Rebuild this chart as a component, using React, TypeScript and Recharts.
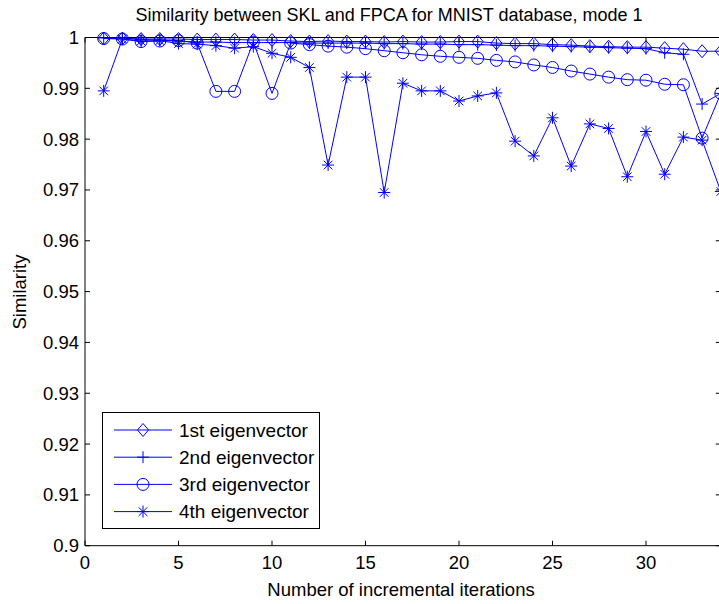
import { LineChart, Line, XAxis, YAxis, Legend, ReferenceLine } from "recharts";

// values
const iterations = [
  1, 2, 3, 4, 5, 6, 7, 8, 9, 10, 11, 12, 13, 14, 15, 16, 17,
  18, 19, 20, 21, 22, 23, 24, 25, 26, 27, 28, 29, 30, 31, 32, 33, 34,
];
const firstEig = [
  0.9998, 0.9998, 0.9997, 0.9997, 0.9997, 0.9996, 0.9996, 0.9996, 0.9995, 0.9995,
  0.9993, 0.9992, 0.9993, 0.9992, 0.9992, 0.9991, 0.9992, 0.9991, 0.9991, 0.9992,
  0.9992, 0.9989, 0.9988, 0.9988, 0.9986, 0.9985, 0.9983, 0.9982, 0.9981, 0.9981,
  0.9979, 0.9977, 0.9973, 0.9973,
];
const secondEig = [
  0.9999, 0.9999, 0.9996, 0.9995, 0.9993, 0.9991, 0.9991, 0.999, 0.999, 0.999,
  0.999, 0.9989, 0.9989, 0.9989, 0.9989, 0.9988, 0.9988, 0.9987, 0.9987, 0.9986,
  0.9986, 0.9985, 0.9984, 0.9984, 0.9983, 0.9982, 0.9981, 0.998, 0.9979, 0.9978,
  0.997, 0.9967, 0.9869, 0.989,
];
const thirdEig = [
  0.9998, 0.9997, 0.9992, 0.9993, 0.9994, 0.9989, 0.9894, 0.9894, 0.9991, 0.989,
  0.9989, 0.9986, 0.9983, 0.9981, 0.9978, 0.9974, 0.997, 0.9966, 0.9963, 0.9961,
  0.9959, 0.9955, 0.9952, 0.9946, 0.9941, 0.9934, 0.9928, 0.9922, 0.9917, 0.9916,
  0.9908, 0.9907, 0.9802, 0.989,
];
const fourthEig = [
  0.9895, 0.9997, 0.9993, 0.9994, 0.9988, 0.9987, 0.9984, 0.9979, 0.9982, 0.9969,
  0.9961, 0.9941, 0.9749, 0.9922, 0.9922, 0.9695, 0.991, 0.9895, 0.9895, 0.9875,
  0.9885, 0.9891, 0.9796, 0.9767, 0.9842, 0.9747, 0.983, 0.9821, 0.9726, 0.9815,
  0.9731, 0.9804, 0.9798, 0.9697,
];
const xTicks = [0, 5, 10, 15, 20, 25, 30];
const yTicks = [0.9, 0.91, 0.92, 0.93, 0.94, 0.95, 0.96, 0.97, 0.98, 0.99, 1];

const BLUE = "#0000ff";
const FONT = "'Liberation Sans', Arial, Helvetica, sans-serif";
const FS = 18.5;

// plot box in page pixels (right edge sits just past the window, like the reference)
const W = 740;
const H = 604;
const LEFT = 85;
const TOP = 37.5;
const RIGHT = 720.8;
const BOTTOM = 545.7;

type MarkerKind = "diamond" | "plus" | "circle" | "star";

const series: { key: string; name: string; marker: MarkerKind }[] = [
  { key: "first", name: "1st eigenvector", marker: "diamond" },
  { key: "second", name: "2nd eigenvector", marker: "plus" },
  { key: "third", name: "3rd eigenvector", marker: "circle" },
  { key: "fourth", name: "4th eigenvector", marker: "star" },
];

const data = iterations.map((it, i) => ({
  it,
  first: firstEig[i],
  second: secondEig[i],
  third: thirdEig[i],
  fourth: fourthEig[i],
}));

function Marker({ cx, cy, kind }: { cx: number; cy: number; kind: MarkerKind }) {
  const common = { stroke: BLUE, strokeWidth: 1, fill: "none" };
  if (kind === "diamond") {
    return (
      <polygon
        {...common}
        points={`${cx},${cy - 6.5} ${cx + 5.5},${cy} ${cx},${cy + 6.5} ${cx - 5.5},${cy}`}
      />
    );
  }
  if (kind === "circle") return <circle {...common} cx={cx} cy={cy} r={6} />;
  if (kind === "plus") {
    return (
      <path {...common} d={`M${cx - 6},${cy}H${cx + 6}M${cx},${cy - 6}V${cy + 6}`} />
    );
  }
  const d = 4.3;
  return (
    <path
      {...common}
      d={`M${cx - 6},${cy}H${cx + 6}M${cx},${cy - 6}V${cy + 6}M${cx - d},${cy - d}L${cx + d},${cy + d}M${cx - d},${cy + d}L${cx + d},${cy - d}`}
    />
  );
}

const dotFor = (kind: MarkerKind) => (props: any) => {
  const { cx, cy, index } = props;
  if (cx == null || cy == null) return <g key={index} />;
  return (
    <g key={`${kind}-${index}`}>
      <Marker cx={cx} cy={cy} kind={kind} />
    </g>
  );
};

function XTick(props: any) {
  const { x, payload } = props;
  return (
    <g>
      <line x1={x} x2={x} y1={BOTTOM} y2={BOTTOM - 5} stroke="#000" />
      <line x1={x} x2={x} y1={TOP} y2={TOP + 5} stroke="#000" />
      <text x={x} y={563} dy="0.35em" textAnchor="middle" fill="#000" fontSize={FS} fontFamily={FONT}>
        {payload.value}
      </text>
    </g>
  );
}

function YTick(props: any) {
  const { y, payload } = props;
  return (
    <g>
      <line x1={LEFT} x2={LEFT + 5} y1={y} y2={y} stroke="#000" />
      <line x1={RIGHT - 5} x2={RIGHT} y1={y} y2={y} stroke="#000" />
      <text x={79} y={y} dy="0.35em" textAnchor="end" fill="#000" fontSize={FS} fontFamily={FONT}>
        {String(Number(payload.value.toFixed(2)))}
      </text>
    </g>
  );
}

function XTitle() {
  return (
    <text x={401} y={590} dy="0.35em" textAnchor="middle" fill="#000" fontSize={FS} fontFamily={FONT}>
      Number of incremental iterations
    </text>
  );
}

function YTitle() {
  return (
    <text
      x={20}
      y={292}
      dy="0.35em"
      textAnchor="middle"
      fill="#000"
      fontSize={FS}
      fontFamily={FONT}
      transform="rotate(-90 20 292)"
    >
      Similarity
    </text>
  );
}

function LegendBox() {
  return (
    <svg width={218} height={117} style={{ display: "block" }}>
      <rect x={0.5} y={0.5} width={217} height={116} fill="#fff" stroke="#000" />
      {series.map((s, i) => {
        const y = 18 + i * 27.2;
        return (
          <g key={s.key}>
            <line x1={12} x2={70} y1={y} y2={y} stroke={BLUE} />
            <Marker cx={41} cy={y} kind={s.marker} />
            <text x={77} y={y} dy="0.35em" fill="#000" fontSize={19} fontFamily={FONT}>
              {s.name}
            </text>
          </g>
        );
      })}
    </svg>
  );
}

export default function App() {
  return (
    <div
      style={{
        position: "fixed",
        left: 0,
        top: 0,
        width: 719,
        height: 604,
        overflow: "hidden",
        background: "#fff",
        fontFamily: FONT,
      }}
    >
      <div
        style={{
          position: "absolute",
          left: 389,
          top: 15,
          transform: "translate(-50%, -50%)",
          whiteSpace: "nowrap",
          fontSize: 18,
          color: "#000",
          zIndex: 2,
        }}
      >
        Similarity between SKL and FPCA for MNIST database, mode 1
      </div>
      <LineChart
        width={W}
        height={H}
        data={data}
        margin={{ top: TOP, right: W - RIGHT, bottom: 0, left: 0 }}
      >
        <XAxis
          dataKey="it"
          type="number"
          domain={[0, 34]}
          ticks={xTicks}
          interval={0}
          height={H - BOTTOM}
          axisLine={{ stroke: "#000" }}
          tickLine={false}
          tick={<XTick />}
          label={<XTitle />}
        />
        <YAxis
          type="number"
          domain={[0.9, 1]}
          ticks={yTicks}
          interval={0}
          width={LEFT}
          axisLine={{ stroke: "#000" }}
          tickLine={false}
          tick={<YTick />}
          label={<YTitle />}
        />
        <ReferenceLine y={1} stroke="#000" />
        <ReferenceLine x={34} stroke="#000" />
        {series.map((s) => (
          <Line
            key={s.key}
            type="linear"
            dataKey={s.key}
            name={s.name}
            stroke={BLUE}
            strokeWidth={1}
            dot={dotFor(s.marker)}
            activeDot={false}
            isAnimationActive={false}
          />
        ))}
        <Legend
          layout="vertical"
          align="center"
          verticalAlign="middle"
          content={<LegendBox />}
          wrapperStyle={{ left: 102, top: 412, width: 218, height: 117 }}
        />
      </LineChart>
    </div>
  );
}
